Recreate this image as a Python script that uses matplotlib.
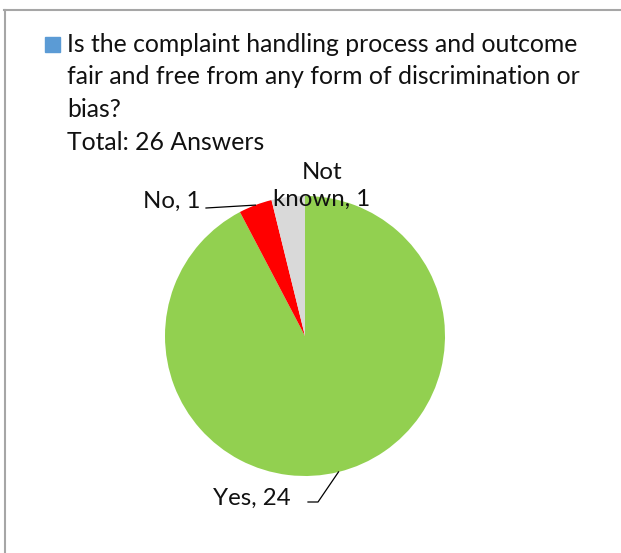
import numpy as np
import matplotlib.pyplot as plt
from matplotlib.patches import Rectangle
from matplotlib.lines import Line2D

# dados
categorias = ["Yes", "No", "Not known"]
respostas = [24, 1, 1]
cores = ["#92D050", "#FF0000", "#D9D9D9"]
titulo_serie = "Is the complaint handling process and outcome\nfair and free from any form of discrimination or\nbias?\nTotal: 26 Answers"

W, H = 621, 553
fig = plt.figure(figsize=(W / 100, H / 100), dpi=100)
plt.rcParams['font.family'] = ['Lato', 'DejaVu Sans']

def fx(px):
    return px / W

def fy(py):
    return 1 - py / H

# borda cinza (so topo e esquerda aparecem)
fig.add_artist(Line2D([fx(4), 1], [fy(9.5), fy(9.5)], color="#a6a6a6", lw=1.5))
fig.add_artist(Line2D([fx(4.5), fx(4.5)], [fy(9.5), 0], color="#a6a6a6", lw=1.5))

# legenda
fig.add_artist(Rectangle((fx(45), fy(52)), fx(15), 15 / H, color="#5B9BD5"))
fig.text(fx(67), fy(33), titulo_serie, fontsize=17.8, va="top", ha="left",
         linespacing=1.5, color="#111111")

# pizza
cx, cy, r = 305, 336, 140
ax = fig.add_axes([fx(cx - r), fy(cy + r), 2 * r / W, 2 * r / H])
wedges, _ = ax.pie(respostas, colors=cores, startangle=90, counterclock=False)
ax.set_xlim(-1, 1)
ax.set_ylim(-1, 1)

def p2d(px, py):
    return ((px - cx) / r, (cy - py) / r)

def meio(w):
    ang = np.deg2rad((w.theta1 + w.theta2) / 2)
    return np.cos(ang), np.sin(ang)

fs = 17.3
# rotulo Yes
mx, my = meio(wedges[0])
ax.text(*p2d(291, 498), f"{categorias[0]}, {respostas[0]}", fontsize=fs,
        ha="right", va="center", clip_on=False, color="#111111")
x0, y0 = p2d(308, 502)
x1, y1 = p2d(318, 502)
ax.plot([x0, x1, mx], [y0, y1, my], color="black", lw=0.9, clip_on=False)

# rotulo No
mx, my = meio(wedges[1])
ax.text(*p2d(201, 201), f"{categorias[1]}, {respostas[1]}", fontsize=fs,
        ha="right", va="center", clip_on=False, color="#111111")
x0, y0 = p2d(206, 208)
ax.plot([x0, mx], [y0, my], color="black", lw=0.9, clip_on=False)

# rotulo Not known
ax.text(*p2d(322, 186), f"Not\nknown, {respostas[2]}", fontsize=fs,
        ha="center", va="center", linespacing=1.35, clip_on=False,
        color="#111111")

fig.savefig("out.png", dpi=100)
